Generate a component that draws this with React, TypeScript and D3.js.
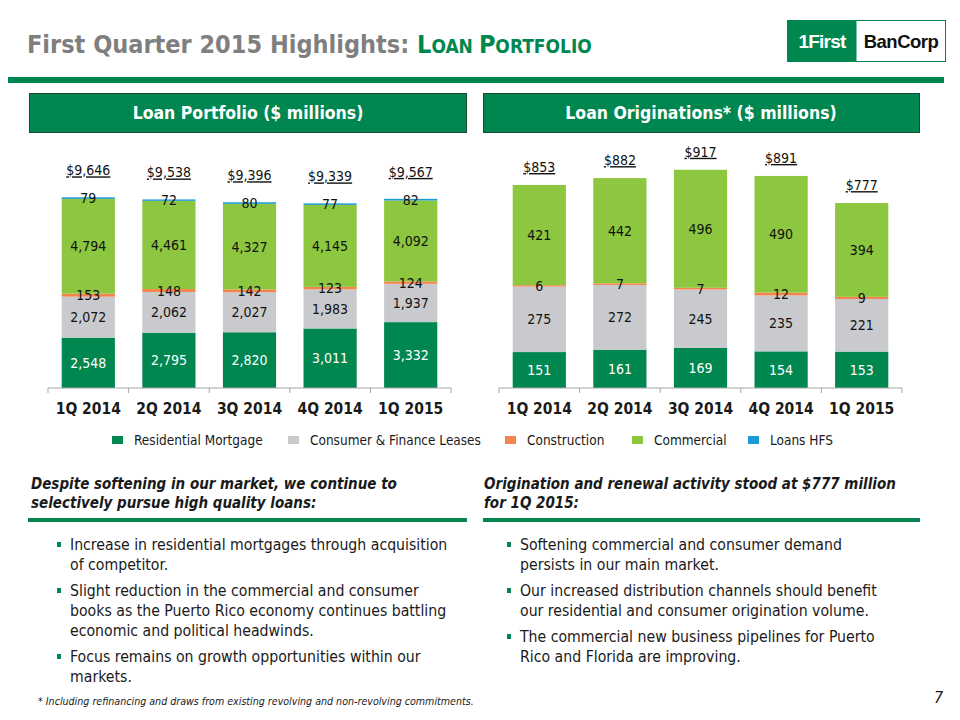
import * as d3 from 'd3'

const quarters = ['1Q 2014', '2Q 2014', '3Q 2014', '4Q 2014', '1Q 2015']
const seriesNames = ['Residential Mortgage', 'Consumer & Finance Leases', 'Construction', 'Commercial', 'Loans HFS']
const seriesColors = ['#00874F', '#C9CACD', '#F5844C', '#8DC63F', '#1C9AD6']

// loan portfolio, $ millions
const portResidential = [2548, 2795, 2820, 3011, 3332]
const portConsumer = [2072, 2062, 2027, 1983, 1937]
const portConstruction = [153, 148, 142, 123, 124]
const portCommercial = [4794, 4461, 4327, 4145, 4092]
const portHFS = [79, 72, 80, 77, 82]

// loan originations, $ millions
const origResidential = [151, 161, 169, 154, 153]
const origConsumer = [275, 272, 245, 235, 221]
const origConstruction = [6, 7, 7, 12, 9]
const origCommercial = [421, 442, 496, 490, 394]

const leftBullets = [
  ['Increase in residential mortgages through acquisition', 'of competitor.'],
  ['Slight reduction in the commercial and consumer', 'books as the Puerto Rico economy continues battling', 'economic and political headwinds.'],
  ['Focus remains on growth opportunities within our', 'markets.']
]
const rightBullets = [
  ['Softening commercial and consumer demand', 'persists in our main market.'],
  ['Our increased distribution channels should benefit', 'our residential and consumer origination volume.'],
  ['The commercial new business pipelines for Puerto', 'Rico and Florida are improving.']
]

const GREEN = '#00874F'
const FONT = '"DejaVu Sans Condensed", "DejaVu Sans", sans-serif'
const fmt = d3.format(',')

function StackedBars({ series, x0, x1, baseline, perUnit, totalGap }) {
  const rows = quarters.map((q, i) => {
    const row = { q }
    series.forEach((s, k) => { row[k] = s[i] })
    return row
  })
  const keys = series.map((s, k) => k)
  const stacked = d3.stack().keys(keys)(rows)
  const maxTotal = d3.max(rows, r => d3.sum(keys, k => r[k]))

  const xScale = d3.scaleBand()
    .domain(quarters)
    .range([x0, x1])
    .paddingInner(0.34)
    .paddingOuter(0.17)
  const yScale = d3.scaleLinear()
    .domain([0, maxTotal])
    .range([baseline, baseline - maxTotal * perUnit])

  const step = xScale.step()
  const ticks = d3.range(quarters.length + 1).map(i => x0 + i * step)

  return (
    <g>
      {stacked.map((layer, k) => (
        <g key={k} fill={seriesColors[k]}>
          {layer.map((d, i) => (
            <rect key={i}
              x={xScale(quarters[i])}
              width={xScale.bandwidth()}
              y={yScale(d[1])}
              height={yScale(d[0]) - yScale(d[1])} />
          ))}
        </g>
      ))}
      {stacked.map((layer, k) => (
        <g key={'l' + k} fontSize={14} textAnchor='middle' fill={k === 0 ? '#fff' : '#111'}>
          {layer.map((d, i) => (
            <text key={i}
              x={xScale(quarters[i]) + xScale.bandwidth() / 2}
              y={(yScale(d[0]) + yScale(d[1])) / 2}
              dy='0.36em'>{fmt(d[1] - d[0])}</text>
          ))}
        </g>
      ))}
      {rows.map((r, i) => {
        const total = d3.sum(keys, k => r[k])
        return (
          <text key={'t' + i}
            x={xScale(quarters[i]) + xScale.bandwidth() / 2}
            y={yScale(total) - totalGap}
            dy='0.36em'
            textAnchor='middle' fontSize={14} fill='#111'
            textDecoration='underline'>{'$' + fmt(total)}</text>
        )
      })}
      <line x1={x0} x2={x1} y1={baseline} y2={baseline} stroke='#A6A6A6' />
      {ticks.map((t, i) => (
        <line key={'k' + i} x1={t} x2={t} y1={baseline} y2={baseline + 5} stroke='#A6A6A6' />
      ))}
      {quarters.map(q => (
        <text key={q} x={xScale(q) + xScale.bandwidth() / 2} y={baseline + 26}
          textAnchor='middle' fontSize={15.5} fontWeight='bold' fill='#1a1a1a'>{q}</text>
      ))}
    </g>
  )
}

function Bullets({ items, x, y }) {
  let cy = y
  const out = []
  items.forEach((lines, i) => {
    out.push(<rect key={'b' + i} x={x} y={cy - 8} width={4} height={5} fill={GREEN} />)
    lines.forEach((line, j) => {
      out.push(<text key={i + '-' + j} x={x + 13} y={cy}>{line}</text>)
      cy += 20
    })
    cy += 6
  })
  return <g fontSize={15.7} fill='#1a1a1a'>{out}</g>
}

export default function App() {
  const legendX = [112, 288, 505, 632, 748]
  return (
    <svg width={960} height={720} viewBox='0 0 960 720'
      style={{ position: 'absolute', left: 0, top: 0, background: '#fff', fontFamily: FONT, fontStretch: 'condensed' }}>
      {/* title */}
      <text x={27} y={53} fontSize={25} fontWeight='bold'>
        <tspan fill='#7F7F7F'>First Quarter 2015 Highlights: </tspan>
        <tspan fill={GREEN}>L</tspan>
        <tspan fill={GREEN} fontSize={19}>OAN </tspan>
        <tspan fill={GREEN}>P</tspan>
        <tspan fill={GREEN} fontSize={19}>ORTFOLIO</tspan>
      </text>
      {/* logo */}
      <rect x={787.5} y={20.5} width={158} height={41} fill='#fff' stroke={GREEN} />
      <rect x={787.5} y={20.5} width={69} height={41} fill={GREEN} />
      <text x={822} y={48} textAnchor='middle' fill='#fff' fontFamily='"Liberation Sans", Arial, sans-serif'
        fontWeight='bold' fontSize={19} letterSpacing={-0.8}>1First</text>
      <text x={901} y={48} textAnchor='middle' fill='#111' fontFamily='"Liberation Sans", Arial, sans-serif'
        fontWeight='bold' fontSize={18.5} letterSpacing={-0.5}>BanCorp</text>
      <rect x={8} y={77} width={936} height={6} fill={GREEN} />

      {/* panel headers */}
      <rect x={29.5} y={93.5} width={437} height={39} fill={GREEN} stroke='#1d4a33' />
      <text x={248} y={119} textAnchor='middle' fill='#fff' fontSize={17.5} fontWeight='bold'>Loan Portfolio ($ millions)</text>
      <rect x={483.5} y={93.5} width={436} height={39} fill={GREEN} stroke='#1d4a33' />
      <text x={701} y={119} textAnchor='middle' fill='#fff' fontSize={17.5} fontWeight='bold'>Loan Originations* ($ millions)</text>

      <StackedBars
        series={[portResidential, portConsumer, portConstruction, portCommercial, portHFS]}
        x0={48} x1={451} baseline={388} perUnit={0.01977} totalGap={27} />
      <StackedBars
        series={[origResidential, origConsumer, origConstruction, origCommercial]}
        x0={499} x1={902} baseline={388} perUnit={0.238} totalGap={18} />

      {/* legend */}
      <g fontSize={13.5} fill='#1a1a1a'>
        {seriesNames.map((name, i) => (
          <g key={name}>
            <rect x={legendX[i]} y={436} width={11} height={8} fill={seriesColors[i]} />
            <text x={legendX[i] + 22} y={445}>{name}</text>
          </g>
        ))}
      </g>

      {/* commentary */}
      <g fontSize={15} fontWeight='bold' fontStyle='italic' fill='#1a1a1a'>
        <text x={31} y={489}>Despite softening in our market, we continue to</text>
        <text x={31} y={508}>selectively pursue high quality loans:</text>
        <text x={484} y={489}>Origination and renewal activity stood at $777 million</text>
        <text x={484} y={508}>for 1Q 2015:</text>
      </g>
      <rect x={28} y={518} width={439} height={4} fill={GREEN} />
      <rect x={483} y={518} width={437} height={4} fill={GREEN} />

      <Bullets items={leftBullets} x={57} y={550} />
      <Bullets items={rightBullets} x={507} y={550} />

      <text x={38} y={705} fontSize={10.6} fontStyle='italic' fill='#1a1a1a'>
        * Including refinancing and draws from existing revolving and non-revolving commitments.
      </text>
      <text x={934} y={703} fontSize={16} fontStyle='italic' fill='#1a1a1a'>7</text>
    </svg>
  )
}
